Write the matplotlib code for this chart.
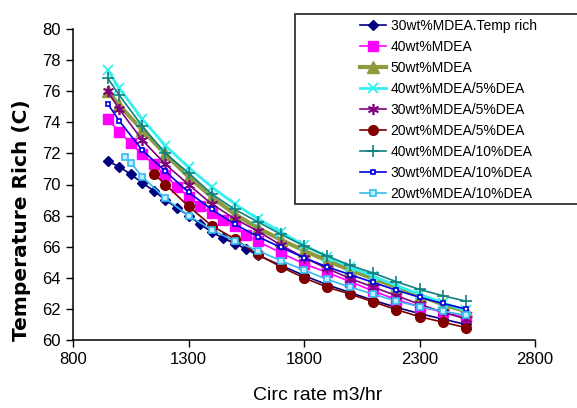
import matplotlib
matplotlib.use("Agg")
import matplotlib.pyplot as plt
from matplotlib.patches import Rectangle

# ---- data ----
x_fine = [950, 1000, 1050, 1100, 1150, 1200, 1250, 1300, 1350, 1400, 1450, 1500, 1550, 1600,
          1700, 1800, 1900, 2000, 2100, 2200, 2300, 2400, 2500]
x_coarse = [950, 1000, 1100, 1200, 1300, 1400, 1500, 1600, 1700, 1800, 1900, 2000, 2100,
            2200, 2300, 2400, 2500]
x_red = [1150, 1200, 1300, 1400, 1500, 1600, 1700, 1800, 1900, 2000, 2100, 2200, 2300, 2400, 2500]
x_lcyan = [1025, 1050, 1100, 1200, 1300, 1400, 1500, 1600, 1700, 1800, 1900, 2000, 2100,
           2200, 2300, 2400, 2500]

mdea30_rich = [71.5, 71.15, 70.65, 70.1, 69.6, 69.0, 68.5, 68.0, 67.45, 66.95, 66.55, 66.2, 65.85,
               65.45, 64.8, 64.15, 63.55, 63.05, 62.55, 62.1, 61.7, 61.35, 61.0]
mdea40 = [74.2, 73.4, 72.65, 71.95, 71.3, 70.6, 69.85, 69.2, 68.6, 68.15, 67.7, 67.3, 66.75,
          66.35, 65.6, 64.9, 64.35, 63.75, 63.15, 62.6, 62.15, 61.8, 61.45]
mdea50 = [76.0, 75.1, 73.5, 71.95, 70.5, 69.2, 68.1, 67.2, 66.45, 65.75, 65.1, 64.5, 63.95,
          63.4, 62.85, 62.3, 61.85]
mdea40_dea5 = [77.35, 76.2, 74.2, 72.5, 71.1, 69.85, 68.75, 67.8, 66.95, 66.1, 65.35, 64.7, 64.1,
               63.5, 62.95, 62.4, 61.9]
mdea30_dea5 = [76.0, 74.85, 72.85, 71.3, 70.0, 68.75, 67.8, 67.0, 66.1, 65.3, 64.6, 63.95, 63.4,
               62.85, 62.3, 61.8, 61.35]
mdea20_dea5 = [70.7, 70.0, 68.6, 67.35, 66.5, 65.5, 64.7, 64.0, 63.4, 62.95, 62.45, 61.95, 61.5,
               61.15, 60.8]
mdea40_dea10 = [76.85, 75.75, 73.75, 72.0, 70.75, 69.4, 68.4, 67.6, 66.8, 66.05, 65.4, 64.8, 64.3,
                63.75, 63.25, 62.85, 62.5]
mdea30_dea10 = [75.2, 74.1, 72.2, 70.85, 69.5, 68.4, 67.45, 66.65, 65.95, 65.3, 64.7, 64.2, 63.7,
                63.2, 62.75, 62.35, 62.0]
mdea20_dea10 = [71.8, 71.4, 70.5, 69.1, 68.0, 67.1, 66.35, 65.75, 65.1, 64.5, 63.9, 63.4, 62.95,
                62.5, 62.15, 61.85, 61.6]

labels = ["30wt%MDEA.Temp rich", "40wt%MDEA", "50wt%MDEA", "40wt%MDEA/5%DEA",
          "30wt%MDEA/5%DEA", "20wt%MDEA/5%DEA", "40wt%MDEA/10%DEA", "30wt%MDEA/10%DEA",
          "20wt%MDEA/10%DEA"]
x_ticks = [800, 1300, 1800, 2300, 2800]
y_ticks = [60, 62, 64, 66, 68, 70, 72, 74, 76, 78, 80]

NARROW = ["Liberation Sans Narrow", "Liberation Sans", "DejaVu Sans"]

fig = plt.figure(figsize=(5.77, 4.08), dpi=100)
ax = fig.add_axes([73/577, 1-340/408, (535-73)/577, (340-29)/408])

series = [
    (x_fine, mdea30_rich, dict(color="#000080", marker="D", ms=5, lw=1.2)),
    (x_fine, mdea40, dict(color="#FF00FF", marker="s", ms=7, lw=1.2)),
    (x_coarse, mdea50, dict(color="#8F9A3E", marker="^", ms=8, lw=3.0)),
    (x_coarse, mdea40_dea5, dict(color="#33F0F0", marker="x", ms=7, mew=1.3, lw=2.0)),
    (x_coarse, mdea30_dea5, dict(color="#800080", marker=(6, 2, 0), ms=8, mew=1.2, lw=1.2)),
    (x_red, mdea20_dea5, dict(color="#800000", marker="o", ms=7, lw=1.2)),
    (x_coarse, mdea40_dea10, dict(color="#108080", marker="+", ms=9, mew=1.2, lw=1.2)),
    (x_coarse, mdea30_dea10, dict(color="#0000E0", marker="s", ms=3.5, mfc="white", mew=1.2, lw=1.2)),
    (x_lcyan, mdea20_dea10, dict(color="#33BBEE", marker="s", ms=4, mfc="#BFEFFF", mew=1.2, lw=1.2)),
]
handles = []
for (xs, ys, kw), lab in zip(series, labels):
    h, = ax.plot(xs, ys, label=lab, **kw)
    handles.append(h)

ax.set_xlim(800, 2800)
ax.set_ylim(60, 80)
ax.set_xticks(x_ticks)
ax.set_yticks(y_ticks)
ax.set_xticklabels([str(v) for v in x_ticks], family=NARROW, fontsize=12)
ax.set_yticklabels([str(v) for v in y_ticks], family=NARROW, fontsize=12)
ax.tick_params(axis="both", direction="out", length=5, width=1, color="black", pad=4)
for s in ["top", "right"]:
    ax.spines[s].set_visible(False)
for s in ["left", "bottom"]:
    ax.spines[s].set_linewidth(1.1)
    ax.spines[s].set_color("black")
ax.set_facecolor("none")

fig.text(318/577, 1-395/408, "Circ rate m3/hr", ha="center", va="center",
         family=NARROW, fontsize=14)
fig.text(22/577, 1-220/408, "Temperature Rich (C)", ha="center", va="center",
         rotation=90, family=["DejaVu Sans"], fontweight="bold", fontsize=14.5)

# legend frame
rect = Rectangle((295/577, 1-204/408), (610-295)/577, (204-14)/408, transform=fig.transFigure,
                 facecolor="white", edgecolor="#333333", lw=1.3, zorder=3)
fig.patches.append(rect)
leg = fig.legend(handles=handles, labels=labels, loc="upper left",
                 bbox_to_anchor=(360/577, 1-19/408), bbox_transform=fig.transFigure,
                 frameon=False, numpoints=1, borderpad=0, borderaxespad=0,
                 handlelength=1.9, handletextpad=0.3, labelspacing=0.5,
                 prop={"family": NARROW, "size": 10})
leg.set_zorder(4)

fig.savefig("out.png", dpi=100)
